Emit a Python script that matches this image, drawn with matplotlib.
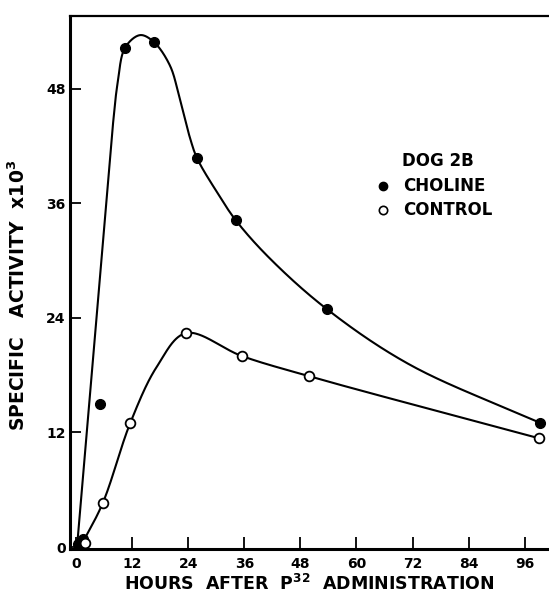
import numpy as np
import matplotlib
matplotlib.use("Agg")
import matplotlib.pyplot as plt

# ---- data ----
choline_hours = [0.4, 1.4, 10.5, 16.7, 25.9, 34.2, 53.7, 99.3]
choline_vals = [0.3, 0.8, 52.3, 52.9, 40.7, 34.2, 24.9, 13.0]
choline_outlier_hours = [5.1]
choline_outlier_vals = [15.0]
control_hours = [1.9, 5.7, 11.6, 23.5, 35.5, 49.8, 99.0]
control_vals = [0.4, 4.6, 13.0, 22.4, 20.0, 17.9, 11.4]

# positions
choline_curve_hours = [0.2, 5.8, 8.0, 8.9, 10.5, 13.7, 16.6, 20.1, 22.2, 24.4,
                       25.9, 30.1, 34.2, 41.5, 53.7, 71.4, 99.3]
choline_curve_vals = [0.0, 32.3, 44.8, 48.6, 52.3, 53.6, 52.9, 50.4, 46.9, 42.8,
                      40.7, 37.2, 34.2, 30.2, 24.9, 19.1, 13.0]
control_curve_hours = [0.9, 5.7, 11.6, 17.3, 23.5, 35.5, 49.8, 99.0]
control_curve_vals = [0.0, 4.6, 13.0, 18.9, 22.4, 20.0, 17.9, 11.4]

x_ticks = [0, 12, 24, 36, 48, 60, 72, 84, 96]
y_ticks = [0, 12, 24, 36, 48]

XS, YS = 4.675, 9.625  # px per data unit (display-space smoothing)


def catmull(xs, ys, n=50, alpha=0.5):
    P = np.column_stack([np.asarray(xs, float) * XS, np.asarray(ys, float) * YS])
    P = np.vstack([2 * P[0] - P[1], P, 2 * P[-1] - P[-2]])
    out = []
    for i in range(1, len(P) - 2):
        p0, p1, p2, p3 = P[i - 1], P[i], P[i + 1], P[i + 2]
        t0 = 0.0
        t1 = t0 + np.linalg.norm(p1 - p0) ** alpha
        t2 = t1 + np.linalg.norm(p2 - p1) ** alpha
        t3 = t2 + np.linalg.norm(p3 - p2) ** alpha
        t = np.linspace(t1, t2, n)[:, None]
        A1 = (t1 - t) / (t1 - t0) * p0 + (t - t0) / (t1 - t0) * p1
        A2 = (t2 - t) / (t2 - t1) * p1 + (t - t1) / (t2 - t1) * p2
        A3 = (t3 - t) / (t3 - t2) * p2 + (t - t2) / (t3 - t2) * p3
        B1 = (t2 - t) / (t2 - t0) * A1 + (t - t0) / (t2 - t0) * A2
        B2 = (t3 - t) / (t3 - t1) * A2 + (t - t1) / (t3 - t1) * A3
        out.append((t2 - t) / (t2 - t1) * B1 + (t - t1) / (t2 - t1) * B2)
    C = np.vstack(out)
    return C[:, 0] / XS, C[:, 1] / YS


plt.rcParams['font.family'] = ['DejaVu Sans']
fig = plt.figure(figsize=(5.49, 5.95), dpi=100)
ax = fig.add_axes([0.1275, 0.0773, 0.8725, 0.8958])

cx, cy = catmull(choline_curve_hours, choline_curve_vals)
ax.plot(cx, cy, color='black', lw=1.5, solid_capstyle='round', zorder=2)
kx, ky = catmull(control_curve_hours, control_curve_vals)
ax.plot(kx, ky, color='black', lw=1.5, solid_capstyle='round', zorder=2)

ax.plot(choline_hours, choline_vals, 'o', color='black', ms=7, zorder=3, clip_on=False)
ax.plot(choline_outlier_hours, choline_outlier_vals, 'o', color='black', ms=7, zorder=3)
ax.plot(control_hours, control_vals, 'o', mfc='white', mec='black', mew=1.3, ms=7,
        zorder=3, clip_on=False)

ax.set_xlim(-1.3, 101.2)
ax.set_ylim(-0.2, 55.6)
ax.spines['right'].set_visible(False)
ax.spines['left'].set_linewidth(2.2)
ax.spines['bottom'].set_linewidth(2.2)
ax.spines['top'].set_linewidth(1.6)

ax.set_xticks(x_ticks)
ax.set_yticks(y_ticks)
ax.set_xticklabels([str(v) for v in x_ticks], fontsize=10, fontweight='bold')
ax.set_yticklabels([str(v) for v in y_ticks], fontsize=10, fontweight='bold')
ax.tick_params(axis='x', direction='in', length=9, width=1.3, pad=6)
ax.tick_params(axis='y', direction='in', length=8, width=1.3, pad=3)

ax.set_xlabel('HOURS  AFTER  P$^{\\mathbf{32}}$  ADMINISTRATION', fontsize=12.5,
              fontweight='bold', labelpad=2)
ax.set_ylabel('SPECIFIC   ACTIVITY  x10$^{\\mathbf{3}}$', fontsize=13.5,
              fontweight='bold')
ax.yaxis.set_label_coords(-0.0856, 0.475)

ax.text(0.693, 0.728, 'DOG 2B', transform=ax.transAxes, fontsize=12,
        fontweight='bold', va='center', ha='left')
ax.plot([0.653], [0.681], 'o', color='black', ms=6, transform=ax.transAxes, clip_on=False)
ax.text(0.695, 0.681, 'CHOLINE', transform=ax.transAxes, fontsize=12,
        fontweight='bold', va='center', ha='left')
ax.plot([0.653], [0.636], 'o', mfc='white', mec='black', mew=1.2, ms=6,
        transform=ax.transAxes, clip_on=False)
ax.text(0.695, 0.636, 'CONTROL', transform=ax.transAxes, fontsize=12,
        fontweight='bold', va='center', ha='left')

fig.savefig('out.png', dpi=100)
